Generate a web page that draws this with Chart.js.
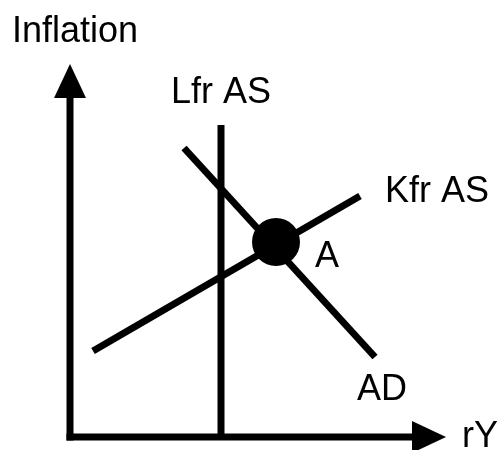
<!DOCTYPE html>
<html>
<head>
<meta charset="utf-8">
<script src="https://cdn.jsdelivr.net/npm/chart.js@4/dist/chart.umd.min.js"></script>
<style>
  html, body { margin: 0; padding: 0; background: #fff; }
  #wrap { width: 500px; height: 450px; }
</style>
</head>
<body>
<div id="wrap"><canvas id="c" width="500" height="450"></canvas></div>
<script>
// ---- Data (diagram units, origin at the axis crossing, y up) ----
const yAxisLine   = [{x: 0, y: 0}, {x: 0, y: 356}];
const xAxisLine   = [{x: 0, y: 0}, {x: 359, y: 0}];
const yArrowHead  = [{x: 0, y: 356}];
const xArrowHead  = [{x: 359, y: 0}];
const lfrAS       = [{x: 151, y: 0}, {x: 151, y: 312}];
const kfrAS       = [{x: 23, y: 86}, {x: 290, y: 241}];
const adCurve     = [{x: 114, y: 289}, {x: 305, y: 80}];
const pointA      = [{x: 206, y: 195}];

// ---- Text labels ----
const labelTexts  = ['Inflation', 'Lfr AS', 'Kfr AS', 'A', 'AD', 'rY'];
const labelX      = [-58, 151, 315, 245, 287, 392];
const labelY      = [395, 334, 235, 170, 37, -10];
const labelAlign  = ['left', 'center', 'left', 'left', 'left', 'left'];

// Arrowhead sprite (points up), used as a point style
function makeArrow(w, h) {
  const cv = document.createElement('canvas');
  cv.width = w; cv.height = h;
  const g = cv.getContext('2d');
  g.fillStyle = '#000';
  g.beginPath();
  g.moveTo(w / 2, 0);
  g.lineTo(w, h);
  g.lineTo(0, h);
  g.closePath();
  g.fill();
  return cv;
}
const arrow = makeArrow(32, 34);

const labelPlugin = {
  id: 'labels',
  afterDatasetsDraw(chart) {
    const ctx = chart.ctx;
    const xs = chart.scales.x, ys = chart.scales.y;
    ctx.save();
    ctx.fillStyle = '#000';
    ctx.font = '36px "Liberation Sans", Arial, sans-serif';
    ctx.textBaseline = 'alphabetic';
    labelTexts.forEach((t, i) => {
      ctx.textAlign = labelAlign[i];
      ctx.fillText(t, xs.getPixelForValue(labelX[i]), ys.getPixelForValue(labelY[i]));
    });
    ctx.restore();
  }
};

const lineDs = (data, w, cap) => ({
  data, showLine: true, borderColor: '#000', borderWidth: w,
  borderCapStyle: cap, pointRadius: 0, fill: false, clip: false
});

new Chart(document.getElementById('c'), {
  type: 'scatter',
  data: {
    datasets: [
      { data: pointA, pointStyle: 'circle', pointRadius: 24, backgroundColor: '#000', borderColor: '#000', borderWidth: 0, showLine: false, clip: false },
      { data: yArrowHead, pointStyle: arrow, pointRotation: 0, showLine: false, clip: false },
      { data: xArrowHead, pointStyle: arrow, pointRotation: 90, showLine: false, clip: false },
      lineDs(kfrAS, 7, 'butt'),
      lineDs(adCurve, 7, 'butt'),
      lineDs(lfrAS, 7, 'butt'),
      lineDs(yAxisLine, 7, 'square'),
      lineDs(xAxisLine, 7, 'square')
    ]
  },
  plugins: [labelPlugin],
  options: {
    responsive: false,
    animation: false,
    events: [],
    devicePixelRatio: 1,
    layout: { padding: 0, autoPadding: false },
    plugins: { legend: { display: false }, tooltip: { enabled: false } },
    scales: {
      x: { type: 'linear', min: -70, max: 430, display: false },
      y: { type: 'linear', min: -13, max: 437, display: false }
    }
  }
});
</script>
</body>
</html>
